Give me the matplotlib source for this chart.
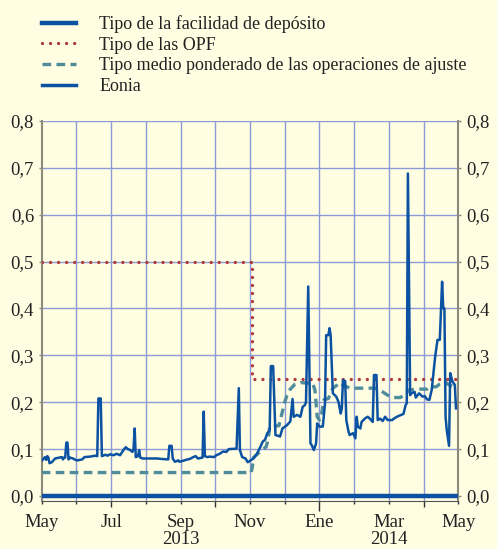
import calendar
import matplotlib
matplotlib.use('Agg')
import matplotlib.pyplot as plt
from matplotlib.lines import Line2D

plt.rcParams['font.family'] = ['Liberation Serif', 'DejaVu Serif']

# Eonia (diario, aprox.)
eonia_dates = ['2013-05-01', '2013-05-04', '2013-05-05', '2013-05-06', '2013-05-07', '2013-05-08',
               '2013-05-10', '2013-05-13', '2013-05-17', '2013-05-19', '2013-05-20', '2013-05-21',
               '2013-05-22', '2013-05-23', '2013-05-24', '2013-05-25', '2013-05-26', '2013-05-29',
               '2013-05-31', '2013-06-02', '2013-06-06', '2013-06-08', '2013-06-13', '2013-06-17',
               '2013-06-19', '2013-06-20', '2013-06-22', '2013-06-23', '2013-06-26', '2013-06-28',
               '2013-06-30', '2013-07-03', '2013-07-06', '2013-07-09', '2013-07-12', '2013-07-14',
               '2013-07-16', '2013-07-18', '2013-07-20', '2013-07-21', '2013-07-22', '2013-07-23',
               '2013-07-25', '2013-07-26', '2013-07-27', '2013-07-29', '2013-08-05', '2013-08-11',
               '2013-08-15', '2013-08-21', '2013-08-22', '2013-08-24', '2013-08-25', '2013-08-27',
               '2013-08-30', '2013-08-31', '2013-09-03', '2013-09-07', '2013-09-09', '2013-09-12',
               '2013-09-14', '2013-09-16', '2013-09-20', '2013-09-21', '2013-09-22', '2013-09-24',
               '2013-09-26', '2013-09-30', '2013-10-02', '2013-10-05', '2013-10-08', '2013-10-11',
               '2013-10-13', '2013-10-20', '2013-10-22', '2013-10-23', '2013-10-25', '2013-10-28',
               '2013-10-30', '2013-11-01', '2013-11-04', '2013-11-07', '2013-11-10', '2013-11-12',
               '2013-11-14', '2013-11-16', '2013-11-18', '2013-11-19', '2013-11-21', '2013-11-23',
               '2013-11-27', '2013-11-29', '2013-12-03', '2013-12-06', '2013-12-08', '2013-12-09',
               '2013-12-12', '2013-12-15', '2013-12-17', '2013-12-19', '2013-12-20', '2013-12-22',
               '2013-12-24', '2013-12-25', '2013-12-27', '2013-12-29', '2013-12-30', '2014-01-01',
               '2014-01-04', '2014-01-06', '2014-01-07', '2014-01-09', '2014-01-10', '2014-01-11',
               '2014-01-13', '2014-01-16', '2014-01-18', '2014-01-20', '2014-01-21', '2014-01-22',
               '2014-01-24', '2014-01-25', '2014-01-27', '2014-01-28', '2014-01-31', '2014-02-02',
               '2014-02-03', '2014-02-04', '2014-02-06', '2014-02-07', '2014-02-10', '2014-02-12',
               '2014-02-14', '2014-02-16', '2014-02-17', '2014-02-19', '2014-02-20', '2014-02-22',
               '2014-02-24', '2014-02-26', '2014-02-28', '2014-03-04', '2014-03-06', '2014-03-09',
               '2014-03-12', '2014-03-14', '2014-03-16', '2014-03-17', '2014-03-18', '2014-03-20',
               '2014-03-21', '2014-03-24', '2014-03-25', '2014-03-28', '2014-03-31', '2014-04-02',
               '2014-04-04', '2014-04-06', '2014-04-08', '2014-04-11', '2014-04-13', '2014-04-15',
               '2014-04-17', '2014-04-18', '2014-04-19', '2014-04-20', '2014-04-21', '2014-04-23',
               '2014-04-24', '2014-04-26', '2014-04-28', '2014-04-29']
eonia = [0.075, 0.083, 0.077, 0.085, 0.082, 0.070,
         0.072, 0.080, 0.082, 0.083, 0.078, 0.082,
         0.082, 0.114, 0.114, 0.078, 0.082, 0.080,
         0.077, 0.076, 0.078, 0.083, 0.084, 0.086,
         0.085, 0.208, 0.208, 0.085, 0.088, 0.086,
         0.089, 0.087, 0.090, 0.087, 0.098, 0.104,
         0.100, 0.098, 0.094, 0.100, 0.144, 0.083,
         0.085, 0.098, 0.082, 0.080, 0.080, 0.080,
         0.079, 0.078, 0.107, 0.107, 0.080, 0.073,
         0.076, 0.073, 0.075, 0.078, 0.079, 0.083,
         0.085, 0.080, 0.082, 0.180, 0.085, 0.083,
         0.084, 0.083, 0.087, 0.090, 0.095, 0.094,
         0.100, 0.101, 0.230, 0.098, 0.083, 0.080,
         0.072, 0.075, 0.080, 0.090, 0.105, 0.116,
         0.120, 0.134, 0.140, 0.277, 0.277, 0.130,
         0.127, 0.144, 0.151, 0.159, 0.207, 0.169,
         0.173, 0.169, 0.190, 0.194, 0.200, 0.447,
         0.112, 0.109, 0.098, 0.112, 0.155, 0.148,
         0.148, 0.198, 0.343, 0.343, 0.358, 0.343,
         0.219, 0.212, 0.201, 0.176, 0.187, 0.247,
         0.245, 0.162, 0.137, 0.130, 0.134, 0.123,
         0.169, 0.148, 0.144, 0.158, 0.166, 0.169,
         0.164, 0.158, 0.258, 0.258, 0.162, 0.165,
         0.160, 0.169, 0.162, 0.162, 0.166, 0.170,
         0.173, 0.175, 0.194, 0.198, 0.688, 0.215,
         0.219, 0.222, 0.210, 0.219, 0.212, 0.213,
         0.206, 0.205, 0.226, 0.297, 0.333, 0.333,
         0.457, 0.400, 0.400, 0.169, 0.141, 0.107,
         0.262, 0.244, 0.237, 0.187]

# Tipo medio ponderado de las operaciones de ajuste
ajuste_dates = ['2013-05-01', '2013-11-02', '2013-11-03', '2013-11-04', '2013-11-10', '2013-11-15',
                '2013-11-17', '2013-11-18', '2013-11-26', '2013-11-29', '2013-12-01', '2013-12-03',
                '2013-12-06', '2013-12-10', '2013-12-15', '2013-12-26', '2013-12-28', '2013-12-29',
                '2013-12-30', '2014-01-01', '2014-01-03', '2014-01-05', '2014-01-09', '2014-01-11',
                '2014-01-13', '2014-01-17', '2014-01-19', '2014-01-22', '2014-01-28', '2014-02-18',
                '2014-02-24', '2014-02-28', '2014-03-05', '2014-03-11', '2014-03-15', '2014-03-19',
                '2014-03-28', '2014-04-04', '2014-04-06', '2014-04-12', '2014-04-15', '2014-04-19',
                '2014-04-23', '2014-04-30']
ajuste = [0.050, 0.050, 0.062, 0.082, 0.095, 0.105,
          0.125, 0.148, 0.150, 0.180, 0.200, 0.215,
          0.228, 0.238, 0.242, 0.240, 0.226, 0.198,
          0.169, 0.162, 0.176, 0.205, 0.208, 0.219,
          0.230, 0.237, 0.242, 0.237, 0.230, 0.230,
          0.222, 0.215, 0.210, 0.210, 0.215, 0.226,
          0.228, 0.228, 0.233, 0.233, 0.239, 0.244,
          0.237, 0.230]

# Tipo de las OPF
opf_dates = ['2013-05-01', '2013-11-03', '2013-11-03', '2014-05-01']
opf = [0.50, 0.50, 0.25, 0.25]

# Tipo de la facilidad de depósito
dep_dates = ['2013-05-01', '2014-05-01']
dep = [0.0, 0.0]

month_labels = ['May', '', 'Jul', '', 'Sep', '', 'Nov', '', 'Ene', '', 'Mar', '', 'May']
years = ['2013', '2014']
y_ticks = [0.0, 0.1, 0.2, 0.3, 0.4, 0.5, 0.6, 0.7, 0.8]


def to_x(s):
    # eje con meses de igual anchura, origen en mayo 2013
    y, m, d = (int(p) for p in s.split('-'))
    idx = (y - 2013) * 12 + (m - 5)
    return idx + (d - 1) / calendar.monthrange(y, m)[1]


bg = '#fffde2'
blue = '#0b52a2'
red = '#b23a3a'
teal = '#4f8c9c'
grid_c = '#8c9ad6'
spine_c = '#8b8a7c'
txt = '#222222'

dotted = (0, (0.01, 2.4))
dashed = (0, (2.6, 1.6))

fig = plt.figure(figsize=(4.97, 5.49), dpi=100, facecolor=bg)
ax = fig.add_axes([41.7 / 497, 48 / 549, 416.6 / 497, 380 / 549])
ax.set_facecolor(bg)

ax.plot([to_x(d) for d in dep_dates], dep, color=blue, lw=3.2, solid_capstyle='butt', zorder=3,
        label='Tipo de la facilidad de depósito')
ax.plot([to_x(d) for d in opf_dates], opf, color=red, lw=2.4, linestyle=dotted,
        dash_capstyle='round', zorder=4, label='Tipo de las OPF')
ax.plot([to_x(d) for d in ajuste_dates], ajuste, color=teal, lw=2.4, linestyle=dashed,
        zorder=4, label='Tipo medio ponderado de las operaciones de ajuste')
ax.plot([to_x(d) for d in eonia_dates], eonia, color=blue, lw=1.8, zorder=5, label='Eonia')

ax.set_xlim(0, 12)
ax.set_ylim(-0.0107, 0.8)

ax.set_yticks(y_ticks)
ax.set_yticklabels([f'{v:.1f}'.replace('.', ',') for v in y_ticks])
ax.tick_params(axis='y', which='both', left=True, right=True, labelleft=True, labelright=True,
               length=2.5, width=1, color=spine_c, labelsize=13.5, labelcolor=txt, pad=3)
for v in y_ticks:
    ax.axhline(v, color=grid_c, lw=1, zorder=1)

ax.set_xticks(range(13))
ax.set_xticklabels(month_labels)
ax.tick_params(axis='x', length=2.2, width=1, color='#333333', labelsize=13.5, labelcolor=txt, pad=7)
for i, t in enumerate(ax.xaxis.get_major_ticks()):
    if i == 8:
        t.tick1line.set_markersize(7.2)
    elif i % 3 == 2:
        t.tick1line.set_markersize(4.3)
for i in range(1, 12):
    ax.axvline(i, color=grid_c, lw=1, zorder=1)

for s in ['left', 'right']:
    ax.spines[s].set_color(spine_c)
    ax.spines[s].set_linewidth(1.5)
ax.spines['top'].set_visible(False)
ax.spines['bottom'].set_color('#555555')
ax.spines['bottom'].set_linewidth(0.8)

for yr, xm in zip(years, [4, 10]):
    ax.text(xm, -0.1035, yr, ha='center', va='baseline', fontsize=13.5, color=txt, clip_on=False)

handles = [Line2D([], [], color=blue, lw=3.2),
           Line2D([], [], color=red, lw=2.4, linestyle=dotted, dash_capstyle='round'),
           Line2D([], [], color=teal, lw=2.4, linestyle=dashed),
           Line2D([], [], color=blue, lw=2.5)]
labels = ['Tipo de la facilidad de depósito', 'Tipo de las OPF',
          'Tipo medio ponderado de las operaciones de ajuste', 'Eonia']
leg = fig.legend(handles, labels, loc='upper left', bbox_to_anchor=(26 / 497, 1 + 1 / 549),
                 frameon=False, fontsize=13, handlelength=1.85, handletextpad=1.3,
                 labelspacing=0.2, labelcolor=txt)

fig.savefig('out.png', dpi=100, facecolor=bg)
